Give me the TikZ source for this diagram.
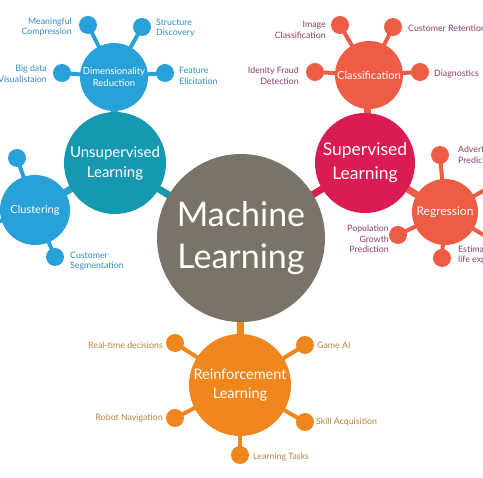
\documentclass[tikz,border=0pt]{standalone}
\usepackage{fontspec}
\setmainfont{Lato}
\usetikzlibrary{backgrounds}
\definecolor{mlgray}{RGB}{122,115,103}
\definecolor{tealc}{RGB}{22,152,176}
\definecolor{skyc}{RGB}{40,160,216}
\definecolor{crimsonc}{RGB}{218,28,82}
\definecolor{coralc}{RGB}{238,92,70}
\definecolor{orangec}{RGB}{240,134,30}
\definecolor{bluetxt}{RGB}{50,140,190}
\definecolor{purptxt}{RGB}{140,60,110}
\definecolor{goldtxt}{RGB}{185,130,60}
\begin{document}
\begin{tikzpicture}[x=1pt,y=-1pt,
  hub/.style={circle,inner sep=0pt,text=white,align=center},
  leaf/.style={circle,inner sep=0pt,minimum size=18pt},
  lab/.style={font=\fontsize{8.8}{10.5}\selectfont,inner sep=0pt},
  labl/.style={lab,anchor=west,align=left},
  labr/.style={lab,anchor=east,align=right},
  bigstem/.style={line width=7pt},
  stem/.style={line width=4pt}]
\useasboundingbox (0,0) rectangle (483,478);

% hubs
\node[hub,fill=mlgray,minimum size=168pt,font=\fontsize{34}{42}\selectfont] (ml) at (241,238) {Machine\\Learning};
\node[hub,fill=tealc,minimum size=102pt,font=\fontsize{15}{20}\selectfont] (unsup) at (115,163) {Unsupervised\\Learning};
\node[hub,fill=crimsonc,minimum size=100pt,font=\fontsize{17.5}{24}\selectfont] (sup) at (365,163) {Supervised\\Learning};
\node[hub,fill=orangec,minimum size=102pt,font=\fontsize{14.5}{19}\selectfont] (reinf) at (240,385) {Reinforcement\\Learning};
\node[hub,fill=skyc,minimum size=68pt,font=\fontsize{9.5}{12}\selectfont] (dim) at (114,77) {Dimensionality\\Reduction};
\node[hub,fill=coralc,minimum size=68pt,font=\fontsize{11}{13}\selectfont] (cls) at (369,75) {Classification};
\node[hub,fill=skyc,minimum size=70pt,font=\fontsize{11}{13}\selectfont] (clu) at (35,210) {Clustering};
\node[hub,fill=coralc,minimum size=66pt,font=\fontsize{12}{14}\selectfont] (reg) at (445,212) {Regression};

% leaves: dimensionality reduction
\node[leaf,fill=skyc] (d1) at (88,25) {};
\node[leaf,fill=skyc] (d2) at (142,27) {};
\node[leaf,fill=skyc] (d3) at (62,73) {};
\node[leaf,fill=skyc] (d4) at (165,73) {};
\node[labr,text=bluetxt] (d1t) at (72,27) {Meaningful\\Compression};
\node[labl,text=bluetxt] (d2t) at (156,28) {Structure\\Discovery};
\node[labr,text=bluetxt] (d3t) at (47,74) {Big data\\Visualistaion};
\node[labl,text=bluetxt] (d4t) at (179,76) {Feature\\Elicitation};

% leaves: clustering
\node[leaf,fill=skyc] (u1) at (17,158) {};
\node[leaf,fill=skyc] (u2) at (55,257) {};
\node[leaf,fill=skyc] (u3) at (-9,224) {};
\node[labl,text=bluetxt] (u2t) at (70,261) {Customer\\Segmentation};

% leaves: classification
\node[leaf,fill=coralc] (c1) at (340,25) {};
\node[leaf,fill=coralc] (c2) at (393,27) {};
\node[leaf,fill=coralc] (c3) at (315,72) {};
\node[leaf,fill=coralc] (c4) at (420,72) {};
\node[labr,text=purptxt] (c1t) at (326,30) {Image\\Classification};
\node[labl,text=purptxt] (c2t) at (408,28) {Customer Retention};
\node[labr,text=purptxt] (c3t) at (299,76) {Idenity Fraud\\Detection};
\node[labl,text=purptxt] (c4t) at (434,74) {Diagnostics};

% leaves: regression
\node[leaf,fill=coralc] (r1) at (440,155) {};
\node[leaf,fill=coralc] (r2) at (442,258) {};
\node[leaf,fill=coralc] (r3) at (398,235) {};
\node[leaf,fill=coralc] (r4) at (492,186) {};
\node[leaf,fill=coralc] (r5) at (492,240) {};
\node[labl,text=purptxt] (r1t) at (458,155) {Advertising Popularity\\Prediction};
\node[labl,text=purptxt] (r2t) at (458,255) {Estimating\\life expectancy};
\node[labr,text=purptxt] (r3t) at (389,239) {Population\\Growth\\Prediction};

% leaves: reinforcement
\node[leaf,fill=orangec] (f1) at (175,343) {};
\node[leaf,fill=orangec] (f2) at (305,345) {};
\node[leaf,fill=orangec] (f3) at (175,418) {};
\node[leaf,fill=orangec] (f4) at (305,422) {};
\node[leaf,fill=orangec] (f5) at (240,455) {};
\node[labr,text=goldtxt] (f1t) at (163,345) {Real-time decisions};
\node[labl,text=goldtxt] (f2t) at (317,345) {Game AI};
\node[labr,text=goldtxt] (f3t) at (163,418) {Robot Navigation};
\node[labl,text=goldtxt] (f4t) at (316,422) {Skill Acquisition};
\node[labl,text=goldtxt] (f5t) at (253,457) {Learning Tasks};

\begin{scope}[on background layer]
  \draw[bigstem,tealc] (unsup.center) -- (ml.center);
  \draw[bigstem,crimsonc] (sup.center) -- (ml.center);
  \draw[bigstem,orangec] (reinf.center) -- (ml.center);
  \draw[bigstem,skyc] (dim.center) -- (unsup.center);
  \draw[bigstem,skyc] (clu.center) -- (unsup.center);
  \draw[bigstem,coralc] (cls.center) -- (sup.center);
  \draw[bigstem,coralc] (reg.center) -- (sup.center);
  \foreach \l in {d1,d2,d3,d4} \draw[stem,skyc] (dim.center) -- (\l.center);
  \foreach \l in {u1,u2,u3} \draw[stem,skyc] (clu.center) -- (\l.center);
  \foreach \l in {c1,c2,c3,c4} \draw[stem,coralc] (cls.center) -- (\l.center);
  \foreach \l in {r1,r2,r3,r4,r5} \draw[stem,coralc] (reg.center) -- (\l.center);
  \foreach \l in {f1,f2,f3,f4,f5} \draw[stem,orangec] (reinf.center) -- (\l.center);
\end{scope}
\end{tikzpicture}
\end{document}
